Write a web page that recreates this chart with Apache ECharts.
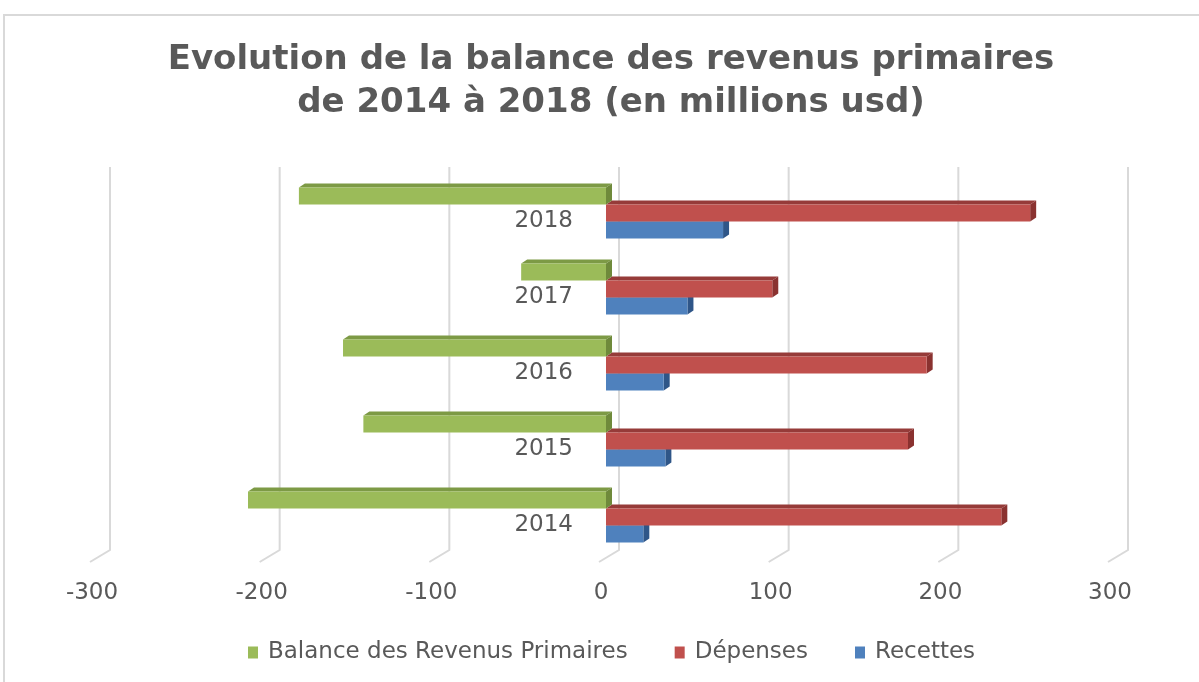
<!DOCTYPE html>
<html>
<head>
<meta charset="utf-8">
<script src="https://cdn.jsdelivr.net/npm/echarts@6/dist/echarts.min.js"></script>
<style>
  html, body { margin: 0; padding: 0; background: #ffffff; }
  #chart { width: 1199px; height: 682px; }
</style>
</head>
<body>
<div id="chart"></div>
<script>
// Years on the category axis (bottom to top)
const years = ['2014', '2015', '2016', '2017', '2018'];
// Values in millions USD
const recettes = [22, 35, 34, 48, 69];
const depenses = [233, 178, 189, 98, 250];
const balance = [-211, -143, -155, -50, -181];
// Value-axis ticks
const ticks = [-300, -200, -100, 0, 100, 200, 300];

const FONT = '"DejaVu Sans", "Open Sans", sans-serif';
const TEXT = '#595959';

// Bar slot inside a year: -1 top, 0 middle, 1 bottom
function bar3d(slot, front, top, side) {
  return function (params, api) {
    const cat = api.value(0);
    const val = api.value(1);
    const a = api.coord([0, cat]);
    const b = api.coord([val, cat]);
    const band = api.size([0, 1])[1];
    const h = band * 17 / 76;
    const y = a[1] + slot * h - h / 2;
    const xl = Math.min(a[0], b[0]);
    const xr = Math.max(a[0], b[0]);
    const dx = 6, dy = 4;
    return {
      type: 'group',
      children: [
        { type: 'polygon', shape: { points: [[xl, y], [xl + dx, y - dy], [xr + dx, y - dy], [xr, y]] },
          style: { fill: top } },
        { type: 'polygon', shape: { points: [[xr, y], [xr + dx, y - dy], [xr + dx, y + h - dy], [xr, y + h]] },
          style: { fill: side } },
        { type: 'rect', shape: { x: xl, y: y, width: xr - xl, height: h },
          style: { fill: front } }
      ]
    };
  };
}

function toData(arr) {
  return arr.map((v, i) => [i, v]);
}

const chart = echarts.init(document.getElementById('chart'), null, { renderer: 'canvas' });

chart.setOption({
  backgroundColor: '#ffffff',
  animation: false,
  graphic: [
    {
      type: 'rect',
      shape: { x: 4, y: 15, width: 1300, height: 800 },
      style: { fill: 'none', stroke: '#d9d9d9', lineWidth: 2 },
      z: -10
    },
    {
      type: 'text',
      x: 611,
      y: 39,
      style: {
        text: 'Evolution de la balance des revenus primaires\nde 2014 à 2018 (en millions usd)',
        textAlign: 'center',
        textVerticalAlign: 'top',
        fontFamily: FONT,
        fontWeight: 'bold',
        fontSize: 34,
        lineHeight: 43,
        fill: TEXT
      }
    }
  ],
  legend: {
    data: ['Balance des Revenus Primaires', 'Dépenses', 'Recettes'],
    left: 243,
    top: 636,
    icon: 'rect',
    itemWidth: 10,
    itemHeight: 12,
    itemGap: 47,
    textStyle: { fontFamily: FONT, fontSize: 23, color: TEXT, padding: [0, 0, 0, 5] }
  },
  grid: { left: 97, right: 84, top: 175, bottom: 127, containLabel: false },
  xAxis: {
    type: 'value',
    min: -300,
    max: 300,
    interval: 100,
    axisLine: { show: false },
    axisTick: { show: false },
    splitLine: { show: false },
    axisLabel: {
      margin: 27,
      padding: [0, 10, 0, 0],
      fontFamily: FONT,
      fontSize: 23,
      color: TEXT,
      customValues: ticks
    }
  },
  yAxis: {
    type: 'category',
    data: years,
    position: 'left',
    offset: -509,
    axisLine: { show: false },
    axisTick: { show: false },
    splitLine: { show: false },
    axisLabel: {
      margin: 33,
      verticalAlign: 'top',
      lineHeight: 16,
      fontFamily: FONT,
      fontSize: 23,
      color: TEXT
    }
  },
  series: [
    {
      // back-wall gridlines with a slanted foot towards the floor edge
      type: 'custom',
      name: 'grid',
      z: 1,
      clip: false,
      silent: true,
      data: ticks.map(t => [0, t]),
      encode: { x: 1, y: 0 },
      renderItem: function (params, api) {
        const c = api.coord([api.value(1), 0]);
        const cs = params.coordSys;
        const yTop = cs.y - 8;
        const yWall = cs.y + cs.height - 5;
        const yFloor = yWall + 12;
        return {
          type: 'polyline',
          shape: { points: [[c[0] + 13, yTop], [c[0] + 13, yWall], [c[0] - 7, yFloor]] },
          style: { stroke: '#d9d9d9', lineWidth: 2, fill: 'none' }
        };
      }
    },
    {
      type: 'custom',
      name: 'Recettes',
      z: 2,
      itemStyle: { color: '#4F81BD' },
      data: toData(recettes),
      encode: { x: 1, y: 0 },
      renderItem: bar3d(1, '#4F81BD', '#3d679c', '#2f5688')
    },
    {
      type: 'custom',
      name: 'Dépenses',
      z: 3,
      itemStyle: { color: '#C0504D' },
      data: toData(depenses),
      encode: { x: 1, y: 0 },
      renderItem: bar3d(0, '#C0504D', '#963b39', '#8a3230')
    },
    {
      type: 'custom',
      name: 'Balance des Revenus Primaires',
      z: 4,
      itemStyle: { color: '#9BBB59' },
      data: toData(balance),
      encode: { x: 1, y: 0 },
      renderItem: bar3d(-1, '#9BBB59', '#7d9a45', '#6f8a3b')
    }
  ]
});
</script>
</body>
</html>
